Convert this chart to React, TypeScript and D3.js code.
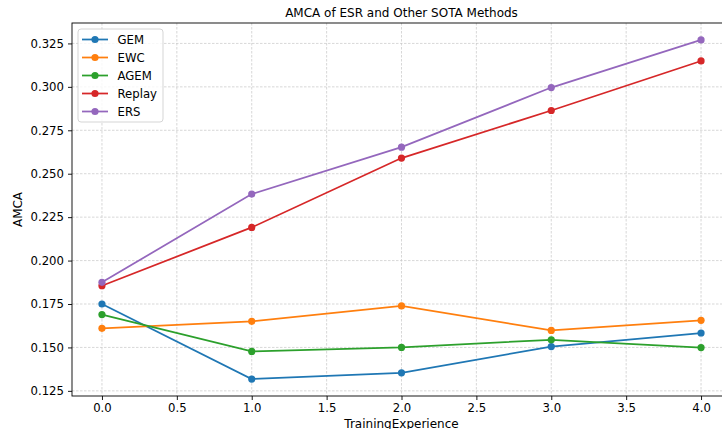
import { useEffect, useRef } from 'react';
import * as d3 from 'd3';

const experiences = [0, 1, 2, 3, 4];
const gem = [0.175, 0.1318, 0.1354, 0.1505, 0.1583];
const ewc = [0.161, 0.165, 0.1739, 0.1598, 0.1656];
const agem = [0.1689, 0.1477, 0.15, 0.1544, 0.1499];
const replay = [0.1855, 0.2191, 0.259, 0.2864, 0.3149];
const ers = [0.1875, 0.2383, 0.2653, 0.2996, 0.327];
const xTicks = [0, 0.5, 1, 1.5, 2, 2.5, 3, 3.5, 4];
const yTicks = [0.125, 0.15, 0.175, 0.2, 0.225, 0.25, 0.275, 0.3, 0.325];

const series = [
  { name: 'GEM', values: gem, color: '#1f77b4' },
  { name: 'EWC', values: ewc, color: '#ff7f0e' },
  { name: 'AGEM', values: agem, color: '#2ca02c' },
  { name: 'Replay', values: replay, color: '#d62728' },
  { name: 'ERS', values: ers, color: '#9467bd' },
];

const FONT = 'DejaVu Sans, sans-serif';

export default function App() {
  const ref = useRef<SVGSVGElement | null>(null);

  useEffect(() => {
    const width = 722;
    const height = 429;
    // axes box (the right edge lies past the cropped image)
    const left = 72;
    const top = 23;
    const right = 731;
    const bottom = 396;

    const svg = d3.select(ref.current);
    svg.selectAll('*').remove();
    svg.attr('viewBox', `0 0 ${width} ${height}`);

    const all = series.flatMap((s) => s.values);
    const yMin = d3.min(all) ?? 0;
    const yMax = d3.max(all) ?? 1;
    const pad = (yMax - yMin) * 0.05;

    const x = d3.scaleLinear().domain([-0.2, 4.2]).range([left, right]);
    const y = d3.scaleLinear().domain([yMin - pad, yMax + pad]).range([bottom, top]);

    svg.append('rect').attr('width', width).attr('height', height).attr('fill', '#fff');

    // grid
    const grid = svg.append('g').attr('stroke', '#b0b0b0').attr('stroke-width', 0.7).attr('stroke-dasharray', '2.5 1.5').attr('opacity', 0.7);
    grid
      .selectAll('.gx')
      .data(xTicks)
      .join('line')
      .attr('x1', (d) => x(d))
      .attr('x2', (d) => x(d))
      .attr('y1', top)
      .attr('y2', bottom);
    grid
      .selectAll('.gy')
      .data(yTicks)
      .join('line')
      .attr('x1', left)
      .attr('x2', right)
      .attr('y1', (d) => y(d))
      .attr('y2', (d) => y(d));

    // axes
    const xAxis = svg
      .append('g')
      .attr('transform', `translate(0,${bottom})`)
      .call(d3.axisBottom(x).tickValues(xTicks).tickFormat(d3.format('.1f')).tickSize(4).tickPadding(4));
    const yAxis = svg
      .append('g')
      .attr('transform', `translate(${left},0)`)
      .call(d3.axisLeft(y).tickValues(yTicks).tickFormat(d3.format('.3f')).tickSize(4).tickPadding(4));
    [xAxis, yAxis].forEach((axis) => {
      axis.select('.domain').remove();
      axis.selectAll('line').attr('stroke', '#000').attr('stroke-width', 0.9);
      axis.selectAll('text').attr('font-family', FONT).attr('font-size', 11.7).attr('fill', '#000');
    });

    // spines
    svg
      .append('rect')
      .attr('x', left)
      .attr('y', top)
      .attr('width', right - left)
      .attr('height', bottom - top)
      .attr('fill', 'none')
      .attr('stroke', '#000')
      .attr('stroke-width', 0.9);

    // lines
    const line = d3
      .line<number>()
      .x((_, i) => x(experiences[i]))
      .y((d) => y(d));

    series.forEach((s) => {
      svg
        .append('path')
        .datum(s.values)
        .attr('d', line)
        .attr('fill', 'none')
        .attr('stroke', s.color)
        .attr('stroke-width', 1.75);
      svg
        .append('g')
        .selectAll('circle')
        .data(s.values)
        .join('circle')
        .attr('cx', (_, i) => x(experiences[i]))
        .attr('cy', (d) => y(d))
        .attr('r', 3.6)
        .attr('fill', s.color);
    });

    // labels
    svg
      .append('text')
      .attr('x', (left + right) / 2)
      .attr('y', 17)
      .attr('text-anchor', 'middle')
      .attr('font-family', FONT)
      .attr('font-size', 12)
      .text('AMCA of ESR and Other SOTA Methods');
    svg
      .append('text')
      .attr('x', (left + right) / 2)
      .attr('y', 428)
      .attr('text-anchor', 'middle')
      .attr('font-family', FONT)
      .attr('font-size', 12)
      .text('TrainingExperience');
    svg
      .append('text')
      .attr('transform', `translate(22,${(top + bottom) / 2}) rotate(-90)`)
      .attr('text-anchor', 'middle')
      .attr('font-family', FONT)
      .attr('font-size', 12)
      .text('AMCA');

    // legend
    const legend = svg.append('g').attr('transform', 'translate(78,29)');
    legend
      .append('rect')
      .attr('width', 85)
      .attr('height', 93)
      .attr('rx', 3)
      .attr('fill', '#fff')
      .attr('fill-opacity', 0.8)
      .attr('stroke', '#d0d0d0')
      .attr('stroke-width', 0.9);
    const items = legend
      .selectAll('.item')
      .data(series)
      .join('g')
      .attr('transform', (_, i) => `translate(0,${10.5 + i * 18})`);
    items
      .append('line')
      .attr('x1', 4)
      .attr('x2', 30)
      .attr('stroke', (d) => d.color)
      .attr('stroke-width', 1.75);
    items
      .append('circle')
      .attr('cx', 17)
      .attr('r', 3.6)
      .attr('fill', (d) => d.color);
    items
      .append('text')
      .attr('x', 39.5)
      .attr('y', 4.2)
      .attr('font-family', FONT)
      .attr('font-size', 11.7)
      .text((d) => d.name);
  }, []);

  return (
    <div style={{ position: 'absolute', left: 0, top: 0 }}>
      <svg ref={ref} width={722} height={429} style={{ display: 'block' }} />
    </div>
  );
}
